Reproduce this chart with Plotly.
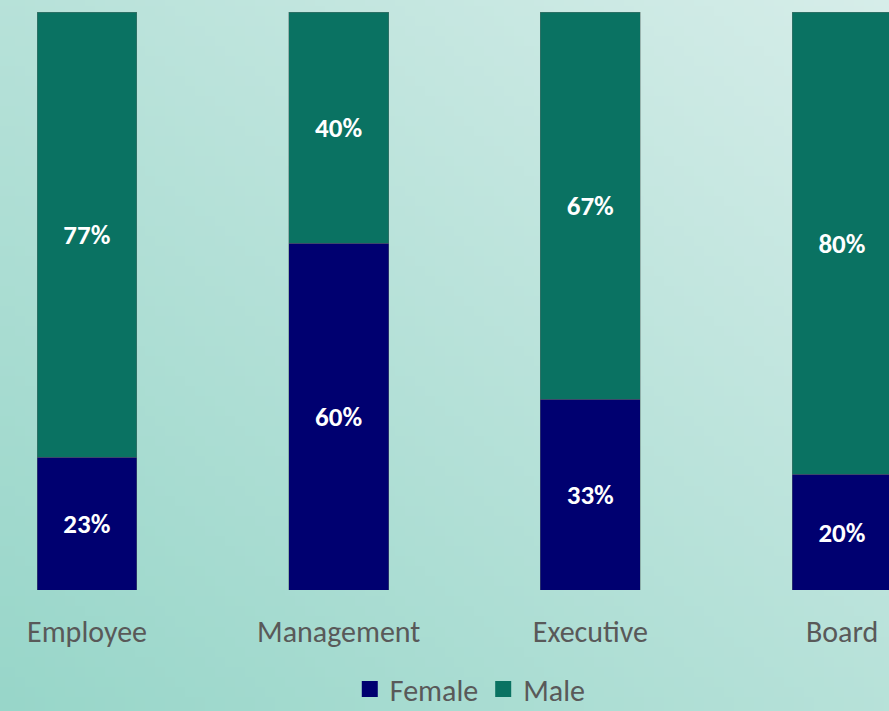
import base64
import struct
import zlib

import plotly.graph_objects as go

# gender split by level, in percent
levels = ["Employee", "Management", "Executive", "Board"]
female = [23, 60, 33, 20]
male = [77, 40, 67, 80]

FEMALE_COLOR = "#000070"
MALE_COLOR = "#0a7262"
FONT = "Carlito, Calibri, Lato, sans-serif"

W, H = 889, 711


def gradient_png(w, h, c0, c1):
    """Small diagonal gradient PNG (bottom-left c0 -> top-right c1) as data URI."""
    rows = b""
    for j in range(h):
        rows += b"\x00"
        for i in range(w):
            t = (i / (w - 1) + 1 - j / (h - 1)) / 2
            rows += bytes(int(round(a + (b - a) * t)) for a, b in zip(c0, c1))

    def chunk(tag, data):
        return struct.pack(">I", len(data)) + tag + data + struct.pack(">I", zlib.crc32(tag + data) & 0xFFFFFFFF)

    png = b"\x89PNG\r\n\x1a\n"
    png += chunk(b"IHDR", struct.pack(">IIBBBBB", w, h, 8, 2, 0, 0, 0))
    png += chunk(b"IDAT", zlib.compress(rows))
    png += chunk(b"IEND", b"")
    return "data:image/png;base64," + base64.b64encode(png).decode()


fig = go.Figure()
fig.add_trace(go.Bar(x=levels, y=female, name="Female", marker_color=FEMALE_COLOR, showlegend=False))
fig.add_trace(go.Bar(x=levels, y=male, name="Male", marker_color=MALE_COLOR, showlegend=False))

fig.update_traces(
    width=0.397,
    texttemplate="%{y}%",
    textposition="inside",
    insidetextanchor="middle",
    textfont=dict(family=FONT, size=27, color="white", weight="bold"),
    marker_line=dict(width=0.6, color="rgba(90,110,105,0.7)"),
)

# legend entries with bigger square swatches than the bar icon allows
for name, color in [("Female", FEMALE_COLOR), ("Male", MALE_COLOR)]:
    fig.add_trace(go.Scatter(
        x=[None], y=[None], mode="markers", name=name,
        marker=dict(symbol="square", size=20, color=color),
    ))

top, bottom = 12, 121
plot_h = H - top - bottom

fig.update_layout(
    width=W,
    height=H,
    barmode="stack",
    margin=dict(l=0, r=0, t=top, b=bottom, autoexpand=False),
    paper_bgcolor="#b8e0da",
    plot_bgcolor="rgba(0,0,0,0)",
    font=dict(family=FONT, color="#595959"),
    showlegend=True,
    legend=dict(
        orientation="h",
        x=0.529,
        xanchor="center",
        y=(590 - 663) / plot_h,
        yanchor="top",
        font=dict(size=30, color="#595959"),
        bgcolor="rgba(0,0,0,0)",
        traceorder="normal",
        itemwidth=30,
        tracegroupgap=0,
    ),
    images=[dict(
        source=gradient_png(89, 71, (152, 214, 201), (214, 237, 233)),
        xref="paper", yref="paper",
        x=0, y=1 + top / plot_h,
        sizex=1, sizey=H / plot_h,
        xanchor="left", yanchor="top",
        sizing="stretch",
        layer="below",
    )],
)

fig.update_xaxes(
    range=[-87 / 251.7, (W - 87) / 251.7],
    showgrid=False,
    showline=False,
    zeroline=False,
    ticks="",
    automargin=False,
    tickfont=dict(size=30, color="#595959"),
    ticklabelstandoff=21,
)
fig.update_yaxes(
    range=[0, 100],
    visible=False,
)

fig.write_html(
    "out.html",
    config={"displayModeBar": False},
    post_script="document.body.style.margin = '0';",
)
